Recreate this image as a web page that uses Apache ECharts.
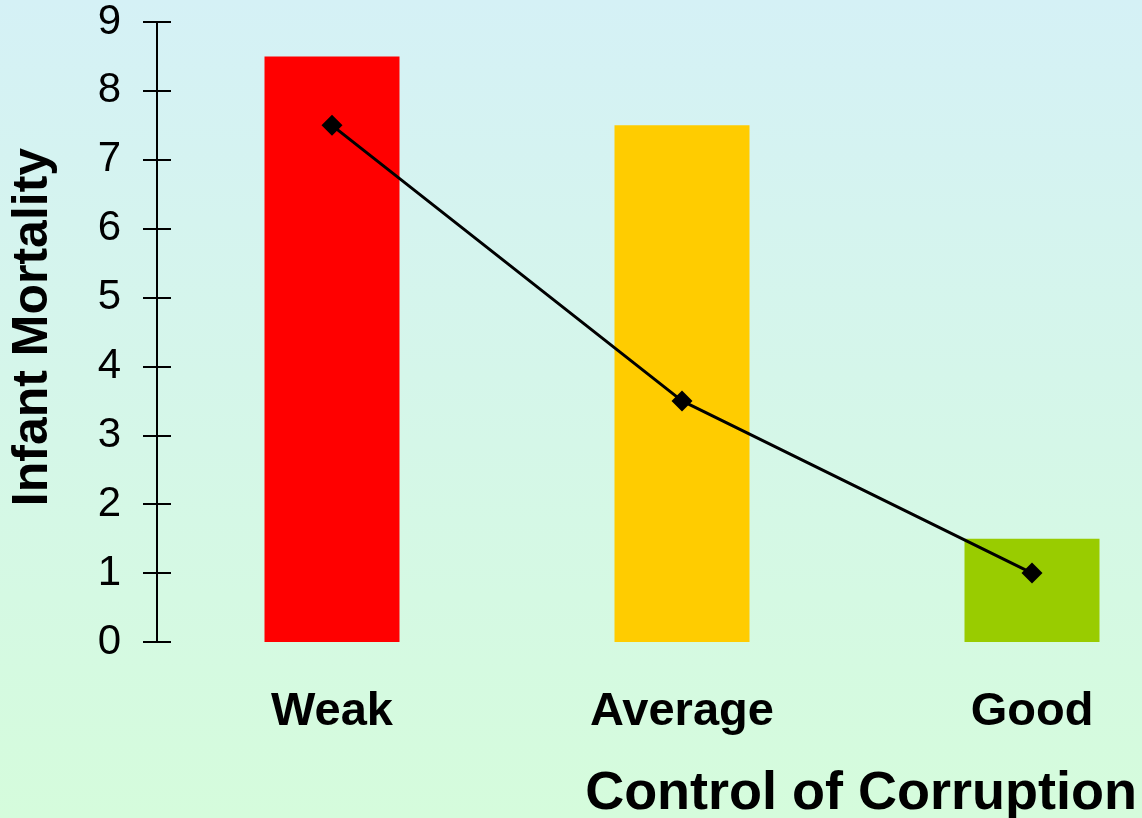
<!DOCTYPE html>
<html>
<head>
<meta charset="utf-8">
<script src="https://cdn.jsdelivr.net/npm/echarts@6/dist/echarts.min.js"></script>
<style>
html,body{margin:0;padding:0;}
#chart{width:1142px;height:818px;}
</style>
</head>
<body>
<div id="chart"></div>
<script>
const categories = ['Weak', 'Average', 'Good'];
const barValues = [8.5, 7.5, 1.5];
const lineValues = [7.5, 3.5, 1.0];
const yTicks = [0, 1, 2, 3, 4, 5, 6, 7, 8, 9];

const barColors = ['#ff0000', '#ffcc00', '#99cc00'];
const FONT = '"Liberation Sans", Arial, sans-serif';

const chart = echarts.init(document.getElementById('chart'), null, {renderer: 'canvas'});
chart.setOption({
  animation: false,
  backgroundColor: {
    type: 'linear', x: 0, y: 0, x2: 0, y2: 1,
    colorStops: [{offset: 0, color: '#d5f1f6'}, {offset: 1, color: '#d5fcdc'}]
  },
  title: {
    text: 'Control of Corruption',
    right: 0,
    top: 762,
    textStyle: {fontFamily: FONT, fontWeight: 'bold', fontSize: 54, color: '#000'}
  },
  grid: {left: 157, top: 22, width: 1050, bottom: 176, containLabel: false, outerBoundsMode: 'none'},
  xAxis: {
    type: 'category',
    data: categories,
    axisLine: {show: false},
    axisTick: {show: false},
    axisLabel: {fontFamily: FONT, fontWeight: 'bold', fontSize: 47, color: '#000', margin: 47}
  },
  yAxis: [{
    type: 'value',
    min: yTicks[0],
    max: yTicks[yTicks.length - 1],
    interval: 1,
    name: 'Infant Mortality',
    nameLocation: 'middle',
    nameRotate: 90,
    nameGap: 99,
    nameTextStyle: {fontFamily: FONT, fontWeight: 'bold', fontSize: 50, color: '#000', padding: [0, 0, 0, 10]},
    axisLine: {show: true, lineStyle: {color: '#000', width: 2}},
    axisTick: {show: true, length: 14, lineStyle: {color: '#000', width: 2}},
    axisLabel: {fontFamily: FONT, fontSize: 42, color: '#000', margin: 36, padding: [4, 0, 0, 0]},
    splitLine: {show: false}
  }, {
    type: 'value',
    position: 'left',
    min: yTicks[0],
    max: yTicks[yTicks.length - 1],
    interval: 1,
    axisLine: {show: false},
    axisTick: {show: true, inside: true, length: 14, lineStyle: {color: '#000', width: 2}},
    axisLabel: {show: false},
    splitLine: {show: false}
  }],
  series: [{
    type: 'bar',
    barWidth: 135,
    data: barValues.map((v, i) => ({value: v, itemStyle: {color: barColors[i]}}))
  }, {
    type: 'line',
    data: lineValues,
    symbol: 'diamond',
    symbolSize: 21,
    lineStyle: {color: '#000', width: 3},
    itemStyle: {color: '#000'},
    z: 5
  }]
});
</script>
</body>
</html>
